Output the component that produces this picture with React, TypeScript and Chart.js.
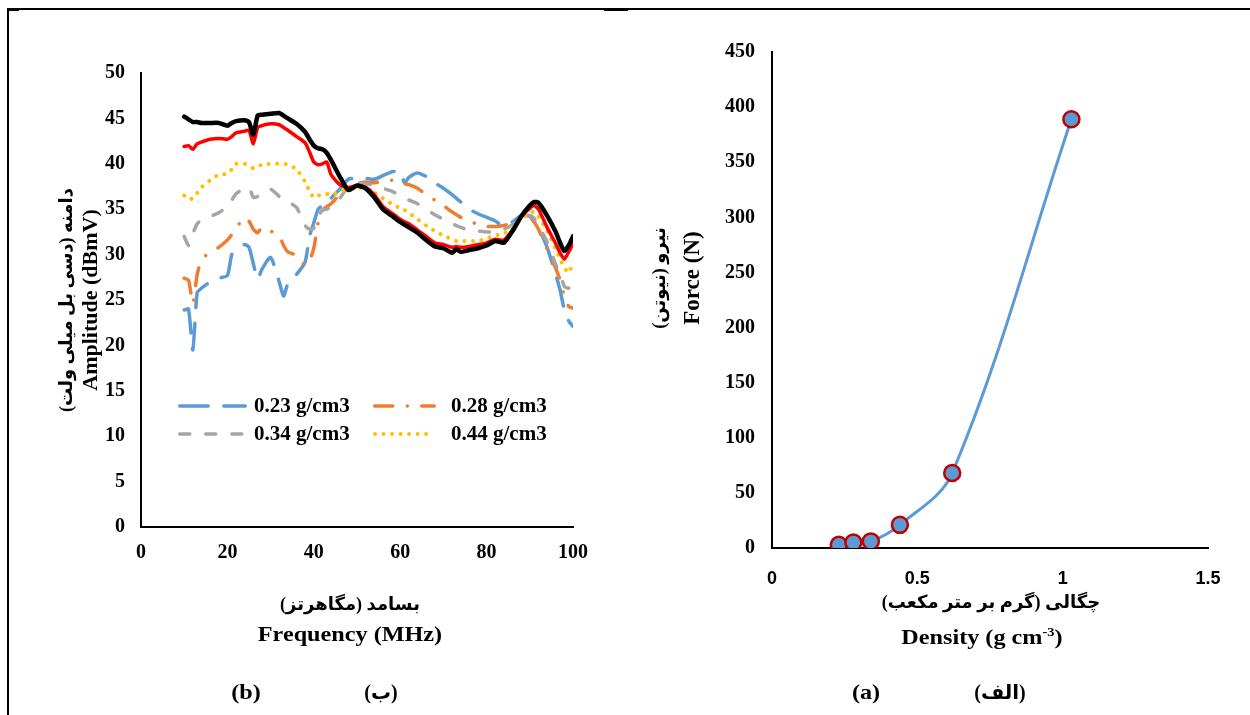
import React, { useEffect, useRef } from "react";
import { Chart, registerables } from "chart.js";

Chart.register(...registerables);

// ---------- Data: left chart (b) amplitude vs frequency ----------
const frequencyMHz = [10, 11, 12, 13, 14, 16, 18, 20, 21, 22, 24, 25, 26, 27, 28, 30, 32, 33, 34, 36, 38, 39, 40, 41, 42, 43, 44, 46, 48, 50, 52, 54, 56, 58, 60, 61, 62, 64, 66, 68, 70, 72, 73, 74, 76, 78, 80, 82, 84, 86, 88, 90, 91, 92, 94, 96, 97, 98, 99, 100];

const amp023 = [23.9, 24.0, 19.5, 25.8, 26.3, 27.0, 27.4, 27.7, 30.0, 30.5, 31.1, 30.8, 29.0, 27.3, 28.4, 29.7, 27.0, 25.4, 26.8, 27.8, 29.2, 32.0, 33.5, 35.0, 35.4, 35.5, 36.2, 37.2, 38.3, 38.4, 38.4, 38.3, 38.7, 39.1, 39.2, 37.9, 38.5, 39.0, 38.6, 37.9, 37.3, 36.6, 36.2, 35.8, 35.0, 34.5, 34.1, 33.7, 33.1, 33.6, 34.3, 34.2, 33.6, 33.0, 30.8, 27.8, 26.1, 23.9, 22.7, 22.1];
const amp028 = [27.4, 27.2, 24.6, 27.8, 29.4, 30.3, 30.8, 31.6, 32.2, 32.9, 34.1, 33.7, 32.8, 32.4, 33.0, 32.6, 32.1, 31.0, 30.3, 29.9, 28.8, 29.3, 30.7, 33.5, 34.9, 35.3, 35.6, 36.6, 37.5, 37.8, 38.0, 37.9, 38.1, 38.2, 38.0, 37.8, 37.7, 37.3, 36.6, 36.0, 35.4, 34.7, 34.4, 34.1, 33.7, 33.3, 33.1, 33.1, 33.2, 33.6, 34.1, 34.2, 33.6, 32.8, 30.6, 28.5, 27.2, 25.4, 24.3, 24.1];
const amp034 = [32.0, 31.0, 32.3, 33.4, 33.8, 34.2, 34.6, 35.3, 36.0, 36.7, 37.3, 37.4, 36.3, 36.4, 36.7, 37.2, 36.4, 36.0, 35.8, 35.2, 33.2, 32.8, 32.9, 34.2, 34.9, 35.0, 35.3, 36.2, 37.5, 37.8, 37.8, 37.6, 37.3, 37.0, 36.5, 36.2, 36.0, 35.6, 35.0, 34.4, 33.9, 33.4, 33.2, 33.0, 32.7, 32.6, 32.5, 32.5, 32.8, 33.3, 34.2, 34.3, 34.0, 33.2, 31.4, 28.9, 27.9, 26.5, 26.3, 27.0];
const amp044 = [36.5, 36.1, 36.2, 36.8, 37.4, 38.2, 38.8, 38.9, 39.4, 40.0, 40.0, 39.8, 39.5, 39.7, 39.9, 40.0, 40.0, 40.0, 39.9, 39.4, 38.0, 37.0, 36.3, 36.5, 36.6, 36.7, 36.5, 36.9, 37.3, 37.4, 37.2, 36.8, 36.2, 35.6, 35.1, 34.9, 34.6, 33.9, 33.2, 32.6, 32.1, 31.7, 31.5, 31.5, 31.5, 31.5, 31.8, 32.1, 32.3, 33.0, 33.9, 34.6, 34.7, 34.2, 32.6, 30.6, 29.5, 28.6, 28.0, 29.2];
const amp062 = [41.9, 42.0, 41.6, 42.2, 42.4, 42.7, 42.8, 42.7, 43.0, 43.4, 43.6, 43.7, 42.2, 44.0, 44.2, 44.4, 44.3, 44.0, 43.7, 43.0, 42.3, 41.3, 40.2, 39.9, 40.0, 40.2, 38.8, 37.7, 37.4, 37.6, 37.4, 36.6, 35.3, 34.6, 33.9, 33.6, 33.4, 32.7, 32.0, 31.3, 31.1, 30.8, 30.9, 30.8, 30.9, 31.1, 31.3, 31.7, 31.6, 32.7, 34.2, 35.1, 35.4, 35.0, 33.0, 31.2, 30.2, 29.5, 30.3, 31.2];
const amp103 = [45.2, 44.9, 44.6, 44.6, 44.5, 44.5, 44.5, 44.2, 44.5, 44.7, 44.8, 44.6, 43.2, 45.3, 45.4, 45.5, 45.6, 45.3, 45.0, 44.4, 43.5, 42.7, 42.0, 41.7, 41.6, 41.2, 40.4, 38.6, 37.1, 37.6, 37.3, 36.3, 35.0, 34.3, 33.6, 33.3, 33.0, 32.4, 31.6, 30.9, 30.7, 30.2, 30.6, 30.3, 30.5, 30.7, 31.0, 31.5, 31.3, 32.6, 34.2, 35.4, 35.8, 35.7, 34.3, 32.5, 31.3, 30.4, 31.0, 32.0];

const seriesLabels = ["0.23 g/cm3", "0.28 g/cm3", "0.34 g/cm3", "0.44 g/cm3", "0.62 g/cm3", "1.03 g/cm3"];
const legendCount = 4;

// ---------- Data: right chart (a) force vs density ----------
const densityGcm3 = [0.23, 0.28, 0.34, 0.44, 0.62, 1.03];
const forceN = [3, 5, 6, 21, 68, 389];

const SERIF = "'Liberation Serif', 'Times New Roman', serif";
const SANS = "'Liberation Sans', Arial, sans-serif";
const FA = "'Liberation Serif', 'DejaVu Sans', serif";

export default function App() {
  const leftRef = useRef<HTMLCanvasElement>(null);
  const rightRef = useRef<HTMLCanvasElement>(null);

  useEffect(() => {
    const styles = [
      { values: amp023, color: "#5B9BD5", width: 3.5, dash: [28.5, 15.5], order: 5 },
      { values: amp028, color: "#ED7D31", width: 3.5, dash: [18, 14.5, 0.01, 14.5], order: 4 },
      { values: amp034, color: "#A5A5A5", width: 3.5, dash: [10, 16], order: 3 },
      { values: amp044, color: "#FFC000", width: 4, dash: [0.01, 8.5], order: 2 },
      { values: amp062, color: "#FF0000", width: 3.5, dash: [], order: 1 },
      { values: amp103, color: "#000000", width: 4.5, dash: [], order: 0 },
    ];

    const legendPlugin = {
      id: "excelLegend",
      afterDraw(chart: any) {
        const ctx = chart.ctx as CanvasRenderingContext2D;
        const slots = [
          { x1: 178, x2: 247, tx: 254, y: 406 },
          { x1: 373, x2: 436, tx: 451, y: 406 },
          { x1: 178, x2: 247, tx: 254, y: 434 },
          { x1: 373, x2: 436, tx: 451, y: 434 },
        ];
        for (let i = 0; i < legendCount; i++) {
          const ds = chart.data.datasets[i];
          const s = slots[i];
          ctx.save();
          ctx.strokeStyle = ds.borderColor;
          ctx.lineWidth = ds.borderWidth;
          ctx.lineCap = "round";
          ctx.setLineDash(ds.borderDash || []);
          ctx.beginPath();
          ctx.moveTo(s.x1 + ds.borderWidth / 2, s.y);
          ctx.lineTo(s.x2 - ds.borderWidth / 2, s.y);
          ctx.stroke();
          ctx.setLineDash([]);
          ctx.fillStyle = "#000";
          ctx.font = `bold 21px ${SERIF}`;
          ctx.textBaseline = "middle";
          ctx.textAlign = "left";
          ctx.fillText(ds.label, s.tx, s.y + 1);
          ctx.restore();
        }
      },
    };

    const serifTick = { family: SERIF, size: 20, weight: "bold" as const };

    const left = new Chart(leftRef.current!, {
      type: "line",
      data: {
        datasets: styles.map((s, i) => ({
          label: seriesLabels[i],
          data: frequencyMHz.map((f, j) => ({ x: f, y: s.values[j] })),
          borderColor: s.color,
          backgroundColor: s.color,
          borderWidth: s.width,
          borderDash: s.dash,
          borderCapStyle: "round",
          borderJoinStyle: "round",
          pointRadius: 0,
          tension: 0.2,
          fill: false,
          order: s.order,
        })),
      },
      options: {
        animation: false,
        responsive: false,
        devicePixelRatio: 1,
        layout: { padding: { top: 73, right: 47, left: 0, bottom: 0 } },
        plugins: { legend: { display: false }, tooltip: { enabled: false } },
        scales: {
          x: {
            type: "linear",
            min: 0,
            max: 100,
            ticks: { stepSize: 20, font: serifTick, color: "#000", padding: 14, maxRotation: 0 },
            grid: { display: true, drawOnChartArea: false, drawTicks: false },
            border: { color: "#000", width: 2 },
            afterFit: (s: any) => { s.height = 188; },
          },
          y: {
            min: 0,
            max: 50,
            ticks: { stepSize: 5, font: serifTick, color: "#000", padding: 16 },
            grid: { display: true, drawOnChartArea: false, drawTicks: false },
            border: { color: "#000", width: 2 },
            afterFit: (s: any) => { s.width = 141; },
          },
        },
      },
      plugins: [legendPlugin],
    } as any);

    const right = new Chart(rightRef.current!, {
      type: "scatter",
      data: {
        datasets: [
          {
            label: "Force",
            data: densityGcm3.map((d, i) => ({ x: d, y: forceN[i] })),
            showLine: true,
            tension: 0.35,
            borderColor: "#5B9BD5",
            borderWidth: 3,
            pointRadius: 8,
            pointBackgroundColor: "#5B9BD5",
            pointBorderColor: "#C00000",
            pointBorderWidth: 2.5,
          },
        ],
      },
      options: {
        animation: false,
        responsive: false,
        devicePixelRatio: 1,
        layout: { padding: { top: 52, right: 42, left: 0, bottom: 0 } },
        plugins: { legend: { display: false }, tooltip: { enabled: false } },
        scales: {
          x: {
            type: "linear",
            min: 0,
            max: 1.5,
            ticks: {
              stepSize: 0.5,
              font: { family: SANS, size: 18, weight: "bold" },
              color: "#000",
              padding: 20,
              maxRotation: 0,
              callback: (v: any) => String(Number(v)),
            },
            grid: { display: true, drawOnChartArea: false, drawTicks: false },
            border: { color: "#000", width: 2 },
            afterFit: (s: any) => { s.height = 167; },
          },
          y: {
            min: 0,
            max: 450,
            ticks: { stepSize: 50, font: serifTick, color: "#000", padding: 17 },
            grid: { display: true, drawOnChartArea: false, drawTicks: false },
            border: { color: "#000", width: 2 },
            afterFit: (s: any) => { s.width = 152; },
          },
        },
      },
    } as any);

    return () => {
      left.destroy();
      right.destroy();
    };
  }, []);

  const txt = (
    x: number,
    y: number,
    content: React.ReactNode,
    opts: { size?: number; rotate?: boolean; sx?: number; rtl?: boolean; family?: string } = {}
  ) => {
    const { size = 22, rotate = false, sx = 1, rtl = false, family = SERIF } = opts;
    return (
      <div
        dir={rtl ? "rtl" : "ltr"}
        style={{
          position: "absolute",
          left: x,
          top: y,
          transform: `translate(-50%, -50%)${rotate ? " rotate(-90deg)" : ""} scaleX(${sx})`,
          whiteSpace: "nowrap",
          fontFamily: family,
          fontWeight: "bold",
          fontSize: size,
          lineHeight: 1.1,
          color: "#000",
        }}
      >
        {content}
      </div>
    );
  };

  return (
    <div style={{ position: "absolute", left: 0, top: 0, width: 1250, height: 715, background: "#fff", overflow: "hidden" }}>
      {/* frame */}
      <div style={{ position: "absolute", left: 7, top: 8, width: 1243, height: 1.5, background: "#000" }} />
      <div style={{ position: "absolute", left: 7, top: 8, width: 2, height: 707, background: "#000" }} />
      <div style={{ position: "absolute", left: 7, top: 8, width: 12, height: 3, background: "#000" }} />
      <div style={{ position: "absolute", left: 604, top: 8, width: 24, height: 3, background: "#000" }} />

      <canvas ref={leftRef} width={620} height={715} style={{ position: "absolute", left: 0, top: 0, width: 620, height: 715 }} />
      <canvas ref={rightRef} width={630} height={715} style={{ position: "absolute", left: 620, top: 0, width: 630, height: 715 }} />

      {/* left chart texts */}
      {txt(67, 300, "دامنه (دسی بل میلی ولت)", { size: 18, rotate: true, rtl: true, family: FA })}
      {txt(90, 300, "Amplitude (dBmV)", { size: 22, rotate: true })}
      {txt(350, 605, "بسامد (مگاهرتز)", { size: 18, rtl: true, family: FA })}
      {txt(350, 634, "Frequency (MHz)", { size: 22, sx: 1.1 })}
      {txt(246, 692, "(b)", { size: 22, sx: 1.1 })}
      {txt(381, 692, "(ب)", { size: 20, rtl: true, family: FA })}

      {/* right chart texts */}
      {txt(660, 278, "نیرو (نیوتن)", { size: 18, rotate: true, rtl: true, family: FA })}
      {txt(692, 278, "Force (N)", { size: 23, rotate: true })}
      {txt(991, 603, "چگالی (گرم بر متر مکعب)", { size: 18, rtl: true, family: FA })}
      {txt(982, 637, <span>Density (g cm<sup style={{ fontSize: "0.6em", verticalAlign: "0.6em" }}>-3</sup>)</span>, { size: 22, sx: 1.1 })}
      {txt(866, 692, "(a)", { size: 22, sx: 1.1 })}
      {txt(1000, 692, "(الف)", { size: 20, rtl: true, family: FA })}
    </div>
  );
}
